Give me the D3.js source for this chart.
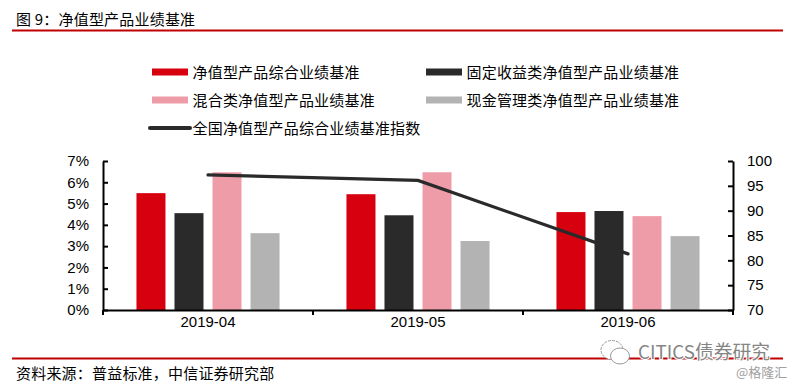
<!DOCTYPE html>
<html>
<head>
<meta charset="utf-8">
<script src="https://cdn.jsdelivr.net/npm/d3@7"></script>
<style>
	html, body { margin: 0; padding: 0; background: #fff; }
	svg { display: block; }
	text { fill: #000; }
	.cn { font-family: "Noto Sans CJK SC", sans-serif; letter-spacing: 0.2px; }
	.num { font-family: "Liberation Sans", Arial, sans-serif; font-size: 15px; }
	.axis path, .axis line { stroke: #000; stroke-width: 2; }
</style>
</head>
<body>
<script>
const categories = ['2019-04', '2019-05', '2019-06'];

const series_names = [
	'净值型产品综合业绩基准',
	'固定收益类净值型产品业绩基准',
	'混合类净值型产品业绩基准',
	'现金管理类净值型产品业绩基准'
];
const series_colors = ['#d7000f', '#2a2a2a', '#ef9ca9', '#b3b3b3'];

// one row per series, in percent
const composite_values = [5.49, 5.44, 4.60];
const fixed_income_values = [4.55, 4.45, 4.65];
const mixed_values = [6.47, 6.47, 4.41];
const cash_values = [3.61, 3.24, 3.47];
const bar_values = [composite_values, fixed_income_values, mixed_values, cash_values];

const index_name = '全国净值型产品综合业绩基准指数';
const index_values = [97.2, 96.1, 81.3];

const left_ticks = [0, 1, 2, 3, 4, 5, 6, 7];
const right_ticks = [70, 75, 80, 85, 90, 95, 100];

const title_text = '图 9：净值型产品业绩基准';
const source_text = '资料来源：普益标准，中信证券研究部';

const width = 796;
const height = 387;
const plot = {left: 103, right: 733, top: 161, bottom: 310};

const svg = d3.select('body').append('svg')
	.attr('width', width)
	.attr('height', height);

const x = d3.scaleBand().domain(categories).range([plot.left, plot.right]);
const x_inner = d3.scaleBand()
	.domain(d3.range(series_names.length))
	.range([0, x.bandwidth()])
	.paddingInner(0.237)
	.paddingOuter(0.88);
const y_left = d3.scaleLinear().domain([0, 7]).range([plot.bottom, plot.top]);
const y_right = d3.scaleLinear().domain([70, 100]).range([plot.bottom, plot.top]);

// header and footer
svg.append('text')
	.attr('class', 'cn')
	.attr('x', 16)
	.attr('y', 25)
	.style('font-size', '15px')
	.text(title_text);

svg.append('text')
	.attr('class', 'cn')
	.attr('x', 16)
	.attr('y', 379)
	.style('font-size', '15px')
	.text(source_text);

svg.selectAll('.rule')
	.data([30.5, 358.5])
	.enter()
	.append('line')
	.attr('class', 'rule')
	.attr('x1', 12)
	.attr('x2', 783)
	.attr('y1', d => d)
	.attr('y2', d => d)
	.attr('stroke', '#c00000')
	.attr('stroke-width', 2);

// legend
const legend_x = [152, 426];
const legend_y = [72, 100];

series_names.forEach((name, i) => {
	const lx = legend_x[i % 2];
	const ly = legend_y[Math.floor(i / 2)];

	svg.append('rect')
		.attr('x', lx)
		.attr('y', ly - 3.5)
		.attr('width', 36)
		.attr('height', 7)
		.attr('fill', series_colors[i]);

	svg.append('text')
		.attr('class', 'cn')
		.attr('x', lx + 40.5)
		.attr('y', ly + 5.5)
		.style('font-size', '15px')
		.text(name);
});

svg.append('line')
	.attr('x1', 150)
	.attr('x2', 190)
	.attr('y1', 128)
	.attr('y2', 128)
	.attr('stroke', '#2a2a2a')
	.attr('stroke-width', 4)
	.attr('stroke-linecap', 'round');

svg.append('text')
	.attr('class', 'cn')
	.attr('x', 192.5)
	.attr('y', 133.5)
	.style('font-size', '15px')
	.text(index_name);

// bars
svg.append('g')
	.selectAll('g')
	.data(bar_values)
	.enter()
	.append('g')
	.attr('fill', (d, i) => series_colors[i])
	.each(function(values, i) {
		d3.select(this)
			.selectAll('rect')
			.data(values)
			.enter()
			.append('rect')
			.attr('x', (d, j) => x(categories[j]) + x_inner(i))
			.attr('y', d => y_left(d))
			.attr('width', x_inner.bandwidth())
			.attr('height', d => y_left(0) - y_left(d));
	});

// axes
const axis_left = svg.append('g')
	.attr('class', 'axis')
	.attr('transform', `translate(${plot.left} 0)`)
	.call(d3.axisLeft(y_left)
		.tickValues(left_ticks)
		.tickFormat(d => `${d}%`)
		.tickSizeInner(-5)
		.tickSizeOuter(0)
		.tickPadding(14));

const axis_right = svg.append('g')
	.attr('class', 'axis')
	.attr('transform', `translate(${plot.right} 0)`)
	.call(d3.axisRight(y_right)
		.tickValues(right_ticks)
		.tickSizeInner(-5)
		.tickSizeOuter(0)
		.tickPadding(14));

const axis_bottom = svg.append('g')
	.attr('class', 'axis')
	.attr('transform', `translate(0 ${plot.bottom})`)
	.call(d3.axisBottom(x).tickSize(0).tickPadding(6));

// category separators sit on the band edges, not the band centres
axis_bottom.selectAll('.edge')
	.data([...categories.map(d => x(d)), plot.right])
	.enter()
	.append('line')
	.attr('class', 'edge')
	.attr('x1', d => d)
	.attr('x2', d => d)
	.attr('y1', 0)
	.attr('y2', 5);

for (const axis of [axis_left, axis_right, axis_bottom]) {
	axis.attr('font-family', null).attr('font-size', null);
	axis.selectAll('text').attr('class', 'num');
}

axis_right.selectAll('line').attr('x2', -5);
axis_left.selectAll('line').attr('x2', 5);

// index line on the right scale
const line = d3.line()
	.x((d, i) => x(categories[i]) + x.bandwidth() / 2)
	.y(d => y_right(d));

svg.append('path')
	.datum(index_values)
	.attr('d', line)
	.attr('fill', 'none')
	.attr('stroke', '#2a2a2a')
	.attr('stroke-width', 3.2)
	.attr('stroke-linecap', 'round');

// watermark
const mark = svg.append('g')
	.attr('fill', '#fff')
	.attr('stroke', '#999')
	.attr('stroke-width', 1);

mark.append('ellipse')
	.attr('cx', 612)
	.attr('cy', 350)
	.attr('rx', 11)
	.attr('ry', 9.5)
	.attr('stroke-dasharray', '3 1');

mark.append('ellipse')
	.attr('cx', 620)
	.attr('cy', 356)
	.attr('rx', 9.5)
	.attr('ry', 8);

svg.append('text')
	.attr('x', 638)
	.attr('y', 358.5)
	.attr('font-family', '"Noto Sans CJK SC", sans-serif')
	.attr('font-size', 18.8)
	.attr('stroke', '#fff')
	.attr('stroke-width', 2)
	.style('paint-order', 'stroke')
	.style('fill', '#858585')
	.text('CITICS债券研究');

svg.append('text')
	.attr('x', 736)
	.attr('y', 377)
	.attr('font-family', '"Noto Sans CJK SC", sans-serif')
	.attr('font-size', 13)
	.style('fill', '#a0a0a0')
	.text('@格隆汇');
</script>
</body>
</html>
